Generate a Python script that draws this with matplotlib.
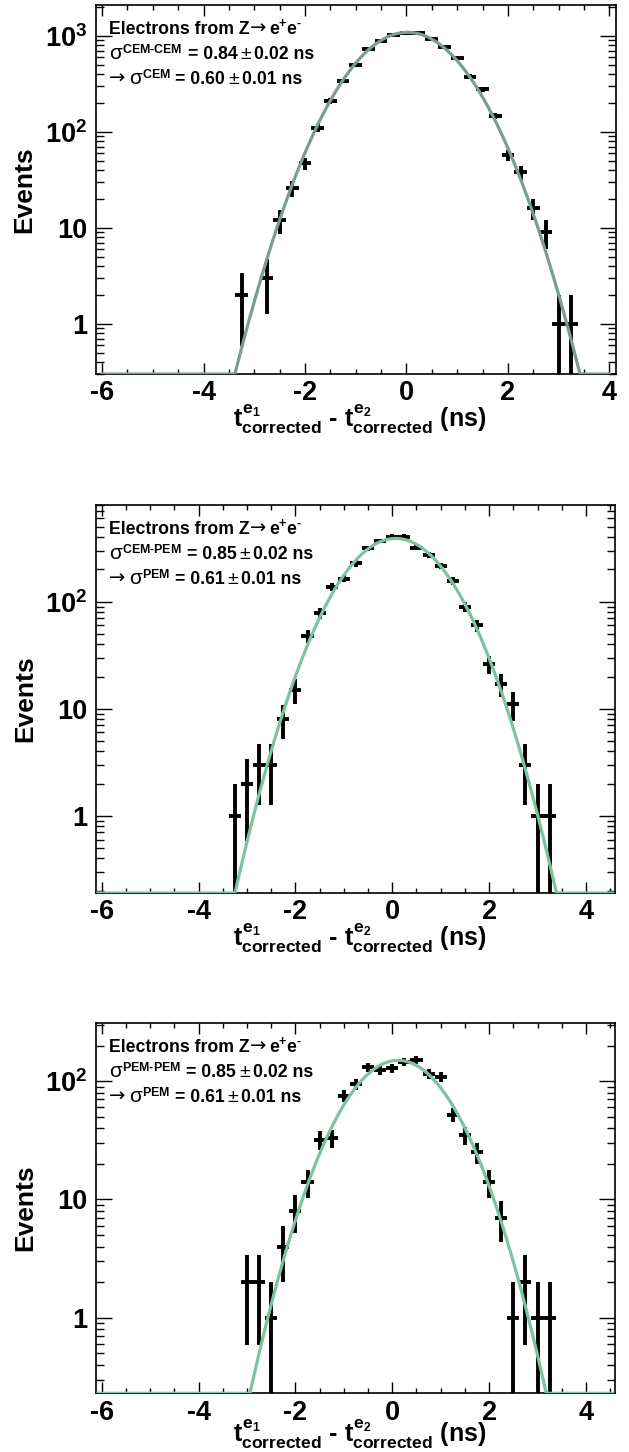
import numpy as np
import matplotlib
matplotlib.use('Agg')
import matplotlib.pyplot as plt
from matplotlib.ticker import MultipleLocator, LogLocator, NullFormatter

plt.rcParams['font.family'] = ['Liberation Sans', 'DejaVu Sans']
plt.rcParams['font.weight'] = 'bold'
plt.rcParams['mathtext.fontset'] = 'custom'
plt.rcParams['mathtext.rm'] = 'Liberation Sans:bold'
plt.rcParams['mathtext.it'] = 'Liberation Sans:bold'
plt.rcParams['mathtext.bf'] = 'Liberation Sans:bold'
plt.rcParams['mathtext.sf'] = 'Liberation Sans:bold'
plt.rcParams['axes.unicode_minus'] = False

# CEM-CEM
x_cc = [-3.25, -2.75, -2.5, -2.25, -2.0, -1.75, -1.5, -1.25, -1.0, -0.75, -0.5, -0.25,
        0.0, 0.25, 0.5, 0.75, 1.0, 1.25, 1.5, 1.75, 2.0, 2.25, 2.5, 2.75, 3.0, 3.25]
n_cc = [2, 3, 12, 26, 47, 111, 212, 340, 495, 727, 893, 1030,
        1065, 1060, 940, 774, 586, 377, 278, 147, 57, 38, 16, 9, 1, 1]
fit_cc = (1090, 0.02, 0.84)   # amplitude, mean, sigma

# CEM-PEM
x_cp = [-3.25, -3.0, -2.75, -2.5, -2.25, -2.0, -1.75, -1.5, -1.25, -1.0, -0.75, -0.5, -0.25,
        0.0, 0.25, 0.5, 0.75, 1.0, 1.25, 1.5, 1.75, 2.0, 2.25, 2.5, 2.75, 3.0, 3.25]
n_cp = [1, 2, 3, 3, 8, 15, 48, 78, 138, 164, 228, 315, 369,
        405, 405, 320, 273, 215, 157, 90, 60, 26, 17, 11, 3, 1, 1]
fit_cp = (390, 0.07, 0.85)

# PEM-PEM
x_pp = [-3.0, -2.75, -2.5, -2.25, -2.0, -1.75, -1.5, -1.25, -1.0, -0.75, -0.5, -0.25,
        0.0, 0.25, 0.5, 0.75, 1.0, 1.25, 1.5, 1.75, 2.0, 2.25, 2.5, 2.75, 3.0, 3.25]
n_pp = [2, 2, 1, 4, 8, 14, 32, 33, 75, 94, 131, 125,
        128, 146, 152, 116, 108, 52, 35, 25, 14, 7, 1, 2, 1, 1]
fit_pp = (150, 0.12, 0.85)

# (pair label, single label, pair sigma, error, single sigma, error)
res_cc = ('CEM-CEM', 'CEM', '0.84', '0.02', '0.60', '0.01')
res_cp = ('CEM-PEM', 'PEM', '0.85', '0.02', '0.61', '0.01')
res_pp = ('PEM-PEM', 'PEM', '0.85', '0.02', '0.61', '0.01')

W, H = 629, 1452
fig = plt.figure(figsize=(W / 100, H / 100), dpi=100)
renderer = fig.canvas.get_renderer()

BOLD = dict(fontsize=12.7, fontweight='bold')
THIN = dict(fontsize=14, fontweight='normal')
ARROW = dict(fontsize=14, fontweight='normal', family='DejaVu Sans')
SIG = dict(fontsize=15, fontweight='normal')


def draw_line(ax, pieces, x0, y0):
    # draw text pieces one after another along a baseline
    x = x0
    for s, kw, gap in pieces:
        t = ax.annotate(s, xy=(0, 1), xycoords='axes fraction', xytext=(x, y0),
                        textcoords='offset pixels', ha='left', va='baseline', **kw)
        x += t.get_window_extent(renderer).width + gap


# left, top, right, bottom in pixels
panels = [
    dict(box=(95.7, 5, 615.7, 374), x=x_cc, n=n_cc, fit=fit_cc, res=res_cc,
         xlim=(-6.125, 4.125), ylim=(0.3, 2100), frange=(-6.0, 4.0), color='#7d9e8b',
         yt=[1, 10, 100, 1000], ytl=['1', '10', '$10^{2}$', '$10^{3}$'], xl=-29),
    dict(box=(95.7, 505, 615, 893), x=x_cp, n=n_cp, fit=fit_cp, res=res_cp,
         xlim=(-6.125, 4.6), ylim=(0.19, 800), frange=(-6.08, 4.55), color='#7cc3a0',
         yt=[1, 10, 100], ytl=['1', '10', '$10^{2}$'], xl=-29),
    dict(box=(95.7, 1022.7, 615, 1393.3), x=x_pp, n=n_pp, fit=fit_pp, res=res_pp,
         xlim=(-6.125, 4.6), ylim=(0.23, 312), frange=(-6.08, 4.55), color='#7cc3a0',
         yt=[1, 10, 100], ytl=['1', '10', '$10^{2}$'], xl=-25),
]

for p in panels:
    l, t, r, b = p['box']
    ax = fig.add_axes([l / W, 1 - b / H, (r - l) / W, (b - t) / H])
    ax.set_yscale('log')

    x = np.array(p['x'])
    n = np.array(p['n'], dtype=float)
    err = np.sqrt(n)
    lo = np.where(n - err <= 0, n - p['ylim'][0] * 0.5, err)
    ax.errorbar(x, n, xerr=0.125, yerr=[lo, err], fmt='none', ecolor='black',
                elinewidth=2.8, capsize=0, zorder=2)

    amp, mu, sig = p['fit']
    xf = np.linspace(p['frange'][0], p['frange'][1], 800)
    yf = amp * np.exp(-0.5 * ((xf - mu) / sig) ** 2)
    yf = np.maximum(yf, p['ylim'][0])
    ax.plot(xf, yf, color=p['color'], lw=2.3, zorder=3)

    ax.set_xlim(*p['xlim'])
    ax.set_ylim(*p['ylim'])

    ax.xaxis.set_minor_locator(MultipleLocator(0.5))
    ax.set_xticks([-6, -4, -2, 0, 2, 4])
    ax.set_xticklabels(['-6', '-4', '-2', '0', '2', '4'])
    ax.set_yticks(p['yt'])
    ax.set_yticklabels(p['ytl'])
    ax.yaxis.set_minor_locator(LogLocator(base=10, subs=np.arange(2, 10)))
    ax.yaxis.set_minor_formatter(NullFormatter())

    ax.tick_params(which='both', direction='in', top=True, right=True, width=1.0,
                   labelsize=19.5)
    ax.tick_params(axis='x', which='major', length=8, pad=4.5)
    ax.tick_params(axis='x', which='minor', length=3.6)
    ax.tick_params(axis='y', which='major', length=11.5, pad=6)
    ax.tick_params(axis='y', which='minor', length=5.8)
    for s in ax.spines.values():
        s.set_linewidth(1.2)

    ax.set_ylabel('Events', fontsize=19, fontweight='bold')
    ax.yaxis.set_label_coords(-0.1135, 0.5)

    ax.annotate('$t^{e_{1}}_{\\text{corrected}}$ - $t^{e_{2}}_{\\text{corrected}}$ (ns)',
                xy=(0.5, 0), xycoords='axes fraction', xytext=(4, p['xl']),
                textcoords='offset pixels', ha='center', va='top', fontsize=18)

    pair, single, s2, e2, s1, e1 = p['res']
    draw_line(ax, [('Electrons from Z', BOLD, 0), ('\u2192', ARROW, 3),
                   ('e$^{+}$e$^{\\text{-}}$', BOLD, 0)], 13.6, -29)
    draw_line(ax, [('\u03c3', SIG, 0), ('$^{\\text{%s}}$' % pair, BOLD, 5),
                   ('= ' + s2, BOLD, 3), ('\u00b1', THIN, 3),
                   (e2 + ' ns', BOLD, 0)], 13.6, -54)
    draw_line(ax, [('\u2192', ARROW, 3), ('\u03c3', SIG, 0),
                   ('$^{\\text{%s}}$' % single, BOLD, 5),
                   ('= ' + s1, BOLD, 3), ('\u00b1', THIN, 3),
                   (e1 + ' ns', BOLD, 0)], 13.6, -79)

fig.savefig('out.png', dpi=100)
